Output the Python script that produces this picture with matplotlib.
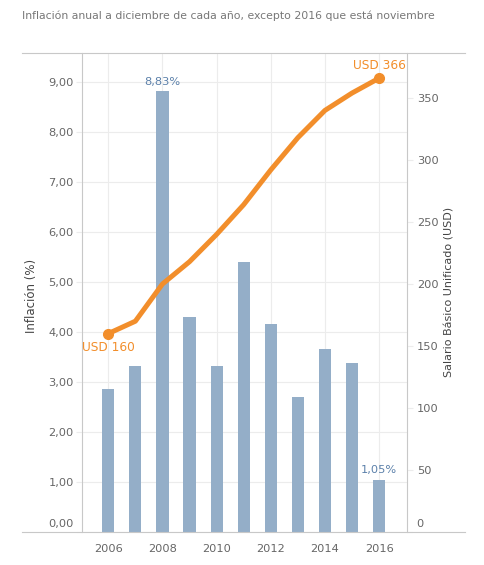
import matplotlib
matplotlib.use("Agg")
import matplotlib.pyplot as plt
from matplotlib.lines import Line2D
from matplotlib.transforms import ScaledTranslation

plt.rcParams['font.family'] = ['DejaVu Sans']

years = [2006, 2007, 2008, 2009, 2010, 2011, 2012, 2013, 2014, 2015, 2016]
inflation = [2.87, 3.32, 8.83, 4.31, 3.33, 5.41, 4.16, 2.70, 3.67, 3.38, 1.05]
salary = [160, 170, 200, 218, 240, 264, 292, 318, 340, 354, 366]
left_ticks = [0, 1, 2, 3, 4, 5, 6, 7, 8, 9]
right_ticks = [0, 50, 100, 150, 200, 250, 300, 350]
x_ticks = [2006, 2008, 2010, 2012, 2014, 2016]

title = "Inflación anual a diciembre de cada año, excepto 2016 que está noviembre"
left_label = "Inflación (%)"
right_label = "Salario Básico Unificado (USD)"

W, H = 485, 565
fig = plt.figure(figsize=(W / 100, H / 100), dpi=100)
fig.patch.set_facecolor('white')

L, R, T, B = 82, 407, 53, 532
ax = fig.add_axes([L / W, 1 - B / H, (R - L) / W, (B - T) / H])
ax2 = ax.twinx()

bar_color = '#94aec8'
lab_blue = '#5b80aa'
orange = '#f28e2b'
grid_c = '#ececec'
axis_c = '#c8c8c8'
tick_txt = '#666666'

ax.bar(years, inflation, width=0.45, color=bar_color, zorder=2)
ax.set_xlim(2005.03, 2017.03)
ax.set_ylim(0, 9.58)
ax.set_xticks(x_ticks)
ax.set_xticklabels([str(y) for y in x_ticks])
ax.set_yticks(left_ticks)
ax.set_yticklabels([f"{v:.2f}".replace('.', ',') for v in left_ticks])
ax.grid(True, color=grid_c, linewidth=0.8, zorder=0)
ax.set_axisbelow(True)

for a in (ax, ax2):
    for s in a.spines.values():
        s.set_visible(False)
ax.spines['left'].set_visible(True)
ax.spines['left'].set_color(axis_c)
ax2.spines['right'].set_visible(True)
ax2.spines['right'].set_color(axis_c)

ax.tick_params(axis='y', length=4, width=0.8, color=grid_c, pad=2, labelsize=8.2, labelcolor=tick_txt)
ax.tick_params(axis='x', length=0, pad=9, labelsize=8.2, labelcolor=tick_txt)

ax2.plot(years, salary, color=orange, linewidth=3.6, solid_capstyle='round', zorder=3)
ax2.plot([years[0], years[-1]], [salary[0], salary[-1]], 'o', color=orange, markersize=7, zorder=4)
ax2.set_ylim(0, 386.3)
ax2.set_yticks(right_ticks)
ax2.set_yticklabels([str(v) for v in right_ticks])
ax2.tick_params(axis='y', length=4, width=0.8, color=grid_c, pad=3, labelsize=8.2, labelcolor=tick_txt)

# shift zero labels up, as in the reference
off = ScaledTranslation(0, 9 / 100, fig.dpi_scale_trans)
for lab in (ax.get_yticklabels()[0], ax2.get_yticklabels()[0]):
    lab.set_transform(lab.get_transform() + off)

# value labels
ax.text(years[2], inflation[2] + 0.07, f"{inflation[2]:.2f}%".replace('.', ','),
        ha='center', va='bottom', color=lab_blue, fontsize=8.2)
ax.text(years[-1], inflation[-1] + 0.09, f"{inflation[-1]:.2f}%".replace('.', ','),
        ha='center', va='bottom', color=lab_blue, fontsize=8.2)
ax2.text(years[0], salary[0] - 6, f"USD {salary[0]}", ha='center', va='top',
         color=orange, fontsize=8.7)
ax2.text(years[-1], salary[-1] + 5, f"USD {salary[-1]}", ha='center', va='bottom',
         color=orange, fontsize=8.7)

# frame lines spanning the figure
fig.add_artist(Line2D([22 / W, 465 / W], [1 - T / H, 1 - T / H], color=axis_c, linewidth=0.8))
fig.add_artist(Line2D([22 / W, 465 / W], [1 - B / H, 1 - B / H], color=axis_c, linewidth=0.8))

fig.text(22 / W, 1 - 16 / H, title, ha='left', va='center', color='#777777', fontsize=7.8)
fig.text(32 / W, 1 - 296 / H, left_label, rotation=90, ha='center', va='center',
         color='#444444', fontsize=8.5)
fig.text(450 / W, 1 - 292 / H, right_label, rotation=90, ha='center', va='center',
         color='#444444', fontsize=8)

fig.savefig('out.png', dpi=100, facecolor='white')
